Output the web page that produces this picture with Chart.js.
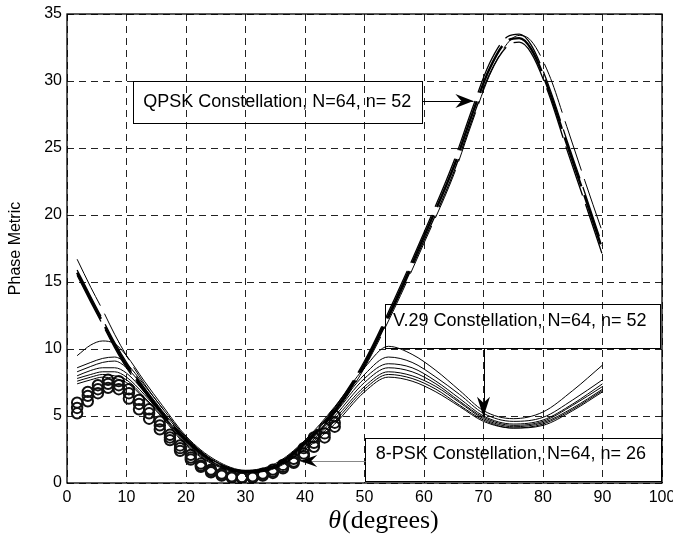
<!DOCTYPE html>
<html>
<head>
<meta charset="utf-8">
<script src="https://cdn.jsdelivr.net/npm/chart.js@4.4.0/dist/chart.umd.min.js"></script>
<style>
  html, body { margin: 0; padding: 0; background: #fff; }
  #wrap { width: 673px; height: 542px; }
</style>
</head>
<body>
<div id="wrap"><canvas id="phase" width="673" height="542"></canvas></div>
<script>
// QPSK curves (dashed), theta in degrees
const qpskTheta = [1.7, 4, 6, 8, 10, 13, 16, 20, 25, 30, 35, 40, 45, 50, 55, 60, 65, 68, 71, 74, 76, 78, 81, 84, 87, 90];
const qpsk1 = [15.7, 13.7, 12.0, 10.3, 8.8, 6.9, 5.2, 3.2, 1.5, 0.85, 1.3, 3.0, 5.4, 8.9, 13.4, 18.4, 23.6, 27.4, 30.9, 33.0, 33.2, 32.4, 29.3, 25.3, 21.4, 17.4];
const qpsk2 = [16.7, 14.6, 12.9, 11.1, 9.5, 7.4, 5.6, 3.4, 1.6, 0.9, 1.3, 2.9, 5.2, 8.6, 13.0, 17.9, 23.0, 26.8, 30.4, 32.8, 33.4, 33.0, 30.5, 26.6, 22.6, 18.7];
const qpsk3 = [15.5, 13.5, 11.8, 10.1, 8.6, 6.8, 5.1, 3.1, 1.45, 0.8, 1.25, 2.9, 5.3, 8.7, 13.2, 18.1, 23.2, 27.0, 30.5, 32.6, 32.9, 32.1, 29.0, 24.9, 21.0, 17.0];
const qpsk4 = [15.9, 13.9, 12.2, 10.5, 9.0, 7.1, 5.3, 3.3, 1.55, 0.9, 1.35, 3.1, 5.6, 9.1, 13.7, 18.7, 24.0, 27.8, 31.3, 33.3, 33.5, 32.7, 29.6, 25.6, 21.7, 17.7];

// V.29 curves (thin solid)
const v29Theta = [1.7, 4, 6, 8, 10, 13, 16, 20, 25, 30, 35, 40, 45, 50, 54, 58, 62, 66, 70, 75, 80, 85, 90];
const v29a = [9.5, 10.3, 10.6, 10.4, 9.5, 7.6, 5.8, 3.5, 1.7, 0.95, 1.45, 3.2, 5.7, 8.6, 10.2, 9.6, 8.4, 6.9, 5.4, 4.8, 5.3, 6.9, 8.8];
const v29b = [8.6, 9.0, 9.3, 9.4, 8.9, 7.3, 5.6, 3.4, 1.6, 0.9, 1.35, 3.0, 5.4, 8.1, 9.4, 9.0, 7.9, 6.6, 5.2, 4.6, 4.9, 6.2, 7.7];
const v29c = [8.3, 8.7, 9.0, 9.1, 8.6, 7.1, 5.4, 3.3, 1.55, 0.85, 1.3, 2.9, 5.2, 7.8, 8.9, 8.6, 7.6, 6.3, 5.0, 4.4, 4.7, 5.9, 7.4];
const v29d = [8.0, 8.4, 8.6, 8.6, 8.2, 6.8, 5.2, 3.1, 1.45, 0.85, 1.25, 2.8, 5.0, 7.5, 8.6, 8.3, 7.4, 6.1, 4.9, 4.3, 4.6, 5.8, 7.2];
const v29e = [7.8, 8.1, 8.3, 8.3, 7.9, 6.6, 5.1, 3.0, 1.4, 0.8, 1.2, 2.7, 4.8, 7.2, 8.3, 8.0, 7.2, 6.0, 4.8, 4.2, 4.5, 5.6, 7.0];
const v29f = [7.6, 7.9, 8.1, 8.0, 7.7, 6.4, 5.0, 2.9, 1.35, 0.8, 1.15, 2.6, 4.6, 7.0, 8.1, 7.8, 7.0, 5.8, 4.7, 4.1, 4.4, 5.5, 6.9];
const v29g = [7.4, 7.7, 7.9, 7.8, 7.5, 6.3, 4.9, 2.8, 1.3, 0.75, 1.1, 2.5, 4.4, 6.8, 7.9, 7.6, 6.8, 5.7, 4.6, 4.1, 4.3, 5.4, 6.8];

// 8-PSK (circles)
const pskTheta = [1.7, 3.5, 5.2, 6.9, 8.7, 10.4, 12.1, 13.8, 15.6, 17.3, 19.0, 20.8, 22.5, 24.2, 26.0, 27.7, 29.4, 31.2, 32.9, 34.6, 36.3, 38.1, 39.8, 41.5, 43.3, 45.0];
const pskMid = [5.6, 6.5, 7.0, 7.4, 7.3, 6.7, 5.9, 5.2, 4.3, 3.4, 2.6, 1.9, 1.3, 0.9, 0.6, 0.45, 0.4, 0.45, 0.6, 0.85, 1.2, 1.6, 2.2, 3.0, 3.7, 4.5];
const pskHigh = [6.0, 6.8, 7.3, 7.7, 7.6, 7.0, 6.2, 5.5, 4.6, 3.6, 2.8, 2.1, 1.45, 1.0, 0.7, 0.5, 0.45, 0.5, 0.7, 1.0, 1.35, 1.8, 2.6, 3.4, 4.1, 5.0];
const pskLow = [5.2, 6.1, 6.7, 7.1, 7.0, 6.3, 5.5, 4.8, 4.0, 3.2, 2.4, 1.75, 1.2, 0.8, 0.55, 0.4, 0.38, 0.4, 0.55, 0.75, 1.1, 1.5, 2.0, 2.7, 3.4, 4.2];

const xTicks = [0, 10, 20, 30, 40, 50, 60, 70, 80, 90, 100];
const yTicks = [0, 5, 10, 15, 20, 25, 30, 35];

const pts = (xs, ys) => xs.map((x, i) => ({x: x, y: ys[i]}));

function qpskSet(ys, width) {
  return {data: pts(qpskTheta, ys), borderColor: '#000', borderWidth: width, borderDash: [52, 9],
    pointRadius: 0, showLine: true, cubicInterpolationMode: 'monotone'};
}
function v29Set(ys) {
  return {data: pts(v29Theta, ys), borderColor: '#000', borderWidth: 1,
    pointRadius: 0, showLine: true, cubicInterpolationMode: 'monotone'};
}
function pskSet(ys) {
  return {data: pts(pskTheta, ys), borderColor: '#111', backgroundColor: 'rgba(255,255,255,0)',
    pointRadius: 5.2, pointBorderWidth: 2, showLine: false};
}

// annotation boxes, in data units
const notes = [
  {text: 'QPSK Constellation, N=64, n= 52', box: [11.1, 30.0, 59.7, 26.9], at: [12.8, 28.45],
   from: [59.7, 28.5], to: [68.3, 28.5], head: [18, 7]},
  {text: 'V.29 Constellation, N=64, n= 52', box: [53.4, 13.35, 99.7, 10.1], at: [54.8, 12.05],
   from: [70, 10.1], to: [70, 4.95], head: [20, 6.5]},
  {text: '8-PSK Constellation, N=64, n= 26', box: [50, 3.38, 99.7, 0.2], at: [51.9, 2.14],
   from: [50, 1.64], to: [39.2, 1.64], head: [17, 6], lineColor: '#888'}
];

function arrowHead(ctx, x1, y1, x2, y2, len, half) {
  const dx = x2 - x1, dy = y2 - y1;
  const d = Math.hypot(dx, dy);
  const ux = dx / d, uy = dy / d;
  const nx = -uy, ny = ux;
  ctx.beginPath();
  ctx.moveTo(x2, y2);
  ctx.lineTo(x2 - ux * len + nx * half, y2 - uy * len + ny * half);
  ctx.lineTo(x2 - ux * (len - 6), y2 - uy * (len - 6));
  ctx.lineTo(x2 - ux * len - nx * half, y2 - uy * len - ny * half);
  ctx.closePath();
  ctx.fill();
}

const extras = {
  id: 'extras',
  afterDatasetsDraw(chart) {
    const {ctx, chartArea: a, scales: {x, y}} = chart;
    ctx.save();
    // annotations
    ctx.font = '18px "Liberation Sans", Arial, sans-serif';
    ctx.textBaseline = 'middle';
    ctx.fillStyle = '#000';
    notes.forEach(n => {
      const bx1 = x.getPixelForValue(n.box[0]), by1 = y.getPixelForValue(n.box[1]);
      const bx2 = x.getPixelForValue(n.box[2]), by2 = y.getPixelForValue(n.box[3]);
      ctx.strokeStyle = '#000';
      ctx.lineWidth = 1;
      ctx.strokeRect(Math.round(bx1) + 0.5, Math.round(by1) + 0.5, Math.round(bx2 - bx1), Math.round(by2 - by1));
      ctx.fillText(n.text, x.getPixelForValue(n.at[0]), y.getPixelForValue(n.at[1]));
      const fx = x.getPixelForValue(n.from[0]), fy = y.getPixelForValue(n.from[1]);
      const tx = x.getPixelForValue(n.to[0]), ty = y.getPixelForValue(n.to[1]);
      ctx.strokeStyle = n.lineColor || '#000';
      ctx.beginPath();
      ctx.moveTo(Math.round(fx) + 0.5, Math.round(fy) + 0.5);
      ctx.lineTo(Math.round(tx) + 0.5, Math.round(ty) + 0.5);
      ctx.stroke();
      arrowHead(ctx, fx, fy, tx, ty, n.head[0], n.head[1]);
    });
    // frame
    ctx.strokeStyle = '#000';
    ctx.lineWidth = 1.3;
    ctx.strokeRect(a.left, a.top, a.right - a.left, a.bottom - a.top);
    // x title: italic theta + (degrees)
    const t1 = '\u03B8', t2 = '(degrees)';
    ctx.textBaseline = 'alphabetic';
    ctx.font = 'italic 26px "Liberation Serif", "DejaVu Serif", serif';
    const w1 = ctx.measureText(t1).width;
    ctx.font = '26px "Liberation Serif", "DejaVu Serif", serif';
    const w2 = ctx.measureText(t2).width;
    const cx = 383, base = 528;
    const sx = cx - (w1 + w2) / 2;
    ctx.font = 'italic 26px "Liberation Serif", "DejaVu Serif", serif';
    ctx.fillText(t1, sx, base);
    ctx.font = '26px "Liberation Serif", "DejaVu Serif", serif';
    ctx.fillText(t2, sx + w1 + 1, base);
    ctx.restore();
  }
};

const tickFont = {family: '"Liberation Sans", Arial, sans-serif', size: 16};

new Chart(document.getElementById('phase'), {
  type: 'scatter',
  data: {
    datasets: [
      qpskSet(qpsk1, 2.4), qpskSet(qpsk3, 1.3), qpskSet(qpsk4, 1.3), qpskSet(qpsk2, 1),
      v29Set(v29a), v29Set(v29b), v29Set(v29c), v29Set(v29d), v29Set(v29e), v29Set(v29f), v29Set(v29g),
      pskSet(pskMid), pskSet(pskHigh), pskSet(pskLow)
    ]
  },
  options: {
    responsive: false,
    animation: false,
    layout: {padding: {left: 0, right: 11, top: 14, bottom: 0}},
    plugins: {legend: {display: false}, tooltip: {enabled: false}},
    scales: {
      x: {
        type: 'linear', min: 0, max: 100,
        afterBuildTicks: s => { s.ticks = xTicks.map(v => ({value: v})); },
        afterFit: s => { s.height = 59; s.paddingLeft = 0; s.paddingRight = 0; },
        ticks: {color: '#000', font: tickFont, padding: 5, maxRotation: 0, autoSkip: false},
        grid: {color: '#222', lineWidth: 1, drawTicks: false},
        border: {display: false, dash: [7, 5]}
      },
      y: {
        type: 'linear', min: 0, max: 35,
        afterBuildTicks: s => { s.ticks = yTicks.map(v => ({value: v})); },
        afterFit: s => { s.width = 67; s.paddingTop = 0; s.paddingBottom = 0; },
        ticks: {color: '#000', font: tickFont, padding: 5, autoSkip: false},
        grid: {color: '#222', lineWidth: 1, drawTicks: false},
        border: {display: false, dash: [7, 5]},
        title: {display: true, text: 'Phase Metric', color: '#000',
          font: {family: '"Liberation Sans", Arial, sans-serif', size: 16}, padding: {top: 6, bottom: 2}}
      }
    }
  },
  plugins: [extras]
});
</script>
</body>
</html>
